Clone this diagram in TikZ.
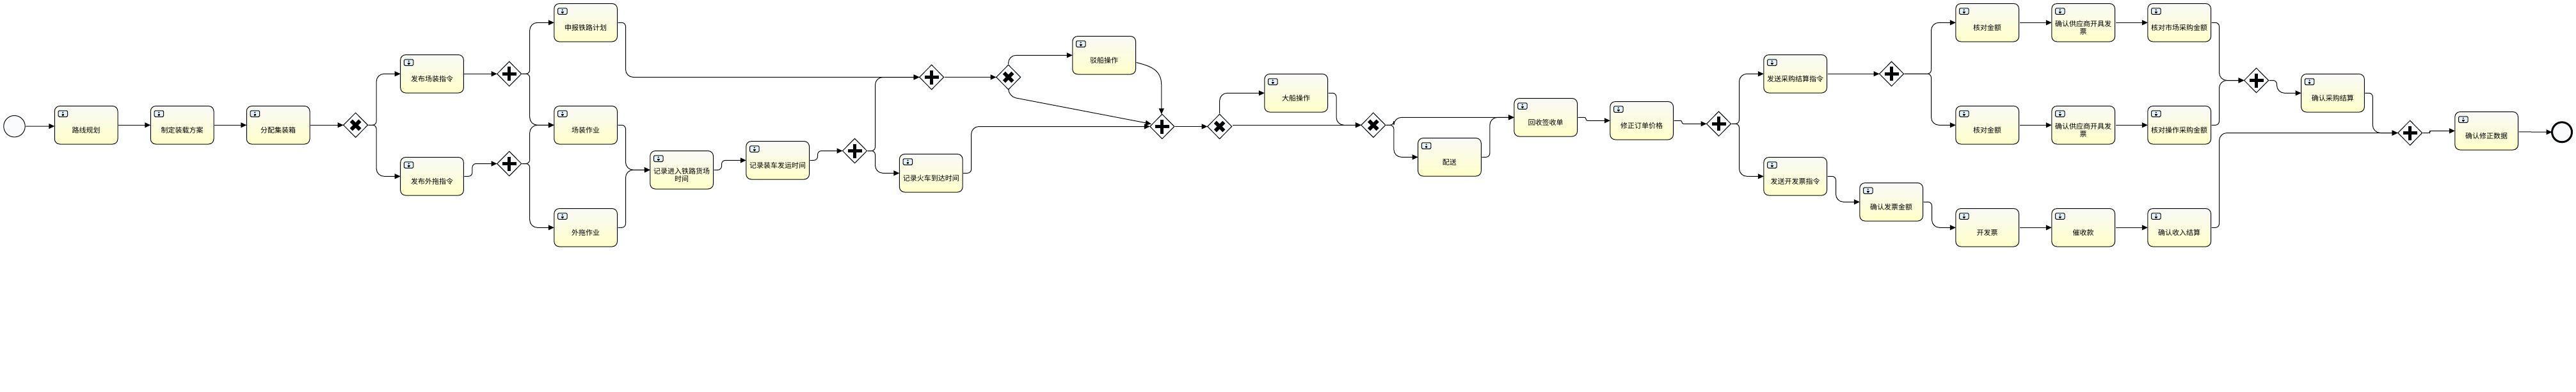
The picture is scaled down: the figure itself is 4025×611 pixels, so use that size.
\documentclass[tikz,border=0pt]{standalone}
\usepackage{fontspec}
\setmainfont{Noto Sans CJK SC}
\usetikzlibrary{shapes.geometric,arrows.meta,calc}
\definecolor{iconblue}{HTML}{E3F1FB}
\definecolor{pale}{HTML}{F9FBFD}
\definecolor{boxtop}{HTML}{F9F9F8}
\definecolor{boxbottom}{HTML}{FFFFC8}
\tikzset{
  task/.style={draw=black,line width=1pt,rounded corners=8pt,top color=boxtop,bottom color=boxbottom,
    minimum width=98.7pt,minimum height=59.4pt,inner sep=0pt,outer sep=0pt},
  tasktext/.style={font=\fontsize{11pt}{12.6pt}\selectfont,align=center,text=black,inner sep=0pt,yshift=-7.8pt},
  taskicon/.style={draw=black,line width=1pt,rounded corners=1.5pt,fill=iconblue,minimum width=14.5pt,minimum height=9.5pt,inner sep=0pt,outer sep=0pt},
  gate/.style={diamond,draw=black,line width=1pt,fill=pale,aspect=1,minimum width=38pt,minimum height=38.4pt,inner sep=0pt,outer sep=0pt},
  evstart/.style={circle,draw=black,line width=1pt,fill=pale,minimum size=33.5pt,inner sep=0pt,outer sep=0pt},
  evend/.style={circle,draw=black,line width=3pt,fill=pale,minimum size=31pt,inner sep=0pt,outer sep=0pt},
  flow/.style={draw=black,line width=1pt,-{Triangle[length=9pt,width=8pt]},shorten <=1pt},
}
\newcommand{\tasknode}[4]{%
  \node[task,label={[tasktext]center:{#4}}] (#1) at ({#2+49.35},{#3+30}) {};
  \node[taskicon] (#1i) at ({#2+13},{#3+12.2}) {};
  \fill[black] ({#2+13},{#3+10.2}) circle (1.1pt);
  \fill[black] ({#2+11.2},{#3+12.2}) rectangle ({#2+14.8},{#3+13.4});
  \fill[black] ({#2+13},{#3+14.2}) circle (1.8pt);
}
\newcommand{\andgate}[3]{%
  \node[gate] (#1) at (#2,#3) {};
  \fill[black] ({#2-11},{#3-2.5}) rectangle ({#2+11},{#3+2.5});
  \fill[black] ({#2-2.5},{#3-11}) rectangle ({#2+2.5},{#3+11});
}
\newcommand{\xorgate}[3]{%
  \node[gate] (#1) at (#2,#3) {};
  \draw[black,line width=5.8pt] ({#2-6.8},{#3-6.8}) -- ({#2+6.8},{#3+6.8});
  \draw[black,line width=5.8pt] ({#2-6.8},{#3+6.8}) -- ({#2+6.8},{#3-6.8});
}
% elbow connector: out of a, vertical run at distance dx, into b
\newcommand{\conn}[3]{\draw[flow] (#1.east) [rounded corners=6pt] -- ++(#2,0) [rounded corners=12pt] |- (#3.west);}
\newcommand{\sconn}[3]{\draw[flow,rounded corners=6pt] (#1.east) -- ++(#2,0) |- (#3.west);}
\newcommand{\tconn}[3]{\draw[flow,rounded corners=2.4pt] (#1.east) -- ++(#2,0) |- (#3.west);}
\begin{document}
\begin{tikzpicture}[x=1pt,y=-1pt]
\useasboundingbox (0,0) rectangle (4025,611);
\fill[white] (0,0) rectangle (4025,611);
% events
\node[evstart] (start) at (22.5,197.2) {};
\node[evend] (stop) at (4003,206.3) {};
% tasks
\tasknode{ta}{85.3}{165.3}{路线规划}
\tasknode{tb}{235.3}{165.3}{制定装载方案}
\tasknode{tc}{385.3}{165.3}{分配集装箱}
\tasknode{td}{625.7}{85.3}{发布场装指令}
\tasknode{te}{625.7}{245.3}{发布外拖指令}
\tasknode{tf}{865.8}{5.3}{申报铁路计划}
\tasknode{tg}{865.8}{165.3}{场装作业}
\tasknode{th}{865.8}{325.3}{外拖作业}
\tasknode{ti}{1015.8}{235.3}{记录进入铁路货场\\时间}
\tasknode{tj}{1165.8}{220.3}{记录装车发运时间}
\tasknode{tk}{1405.4}{240.3}{记录火车到达时间}
\tasknode{tl}{1675.8}{56.3}{驳船操作}
\tasknode{tm}{1975.8}{115.3}{大船操作}
\tasknode{tn}{2215.6}{215.3}{配送}
\tasknode{to}{2365.8}{153.3}{回收签收单}
\tasknode{tp}{2515.8}{158.3}{修正订单价格}
\tasknode{tq}{2755.8}{85.3}{发送采购结算指令}
\tasknode{tr}{2755.8}{245.3}{发送开发票指令}
\tasknode{ts}{2905.8}{285.3}{确认发票金额}
\tasknode{tt}{3055.8}{5.3}{核对金额}
\tasknode{tu}{3205.8}{5.3}{确认供应商开具发\\票}
\tasknode{tv}{3355.8}{5.3}{核对市场采购金额}
\tasknode{tw}{3055.8}{165.3}{核对金额}
\tasknode{tx}{3205.8}{165.3}{确认供应商开具发\\票}
\tasknode{ty}{3355.8}{165.3}{核对操作采购金额}
\tasknode{tz}{3055.8}{325.3}{开发票}
\tasknode{ua}{3205.8}{325.3}{催收款}
\tasknode{ub}{3355.8}{325.3}{确认收入结算}
\tasknode{uc}{3595.6}{115.3}{确认采购结算}
\tasknode{ud}{3835.8}{174.3}{确认修正数据}
% gateways
\xorgate{xa}{555.6}{195.3}
\andgate{aa}{795.7}{115.3}
\andgate{ab}{795.7}{255.5}
\andgate{ac}{1335.5}{235.5}
\andgate{ad}{1455.6}{120.5}
\xorgate{xb}{1575.6}{120.5}
\andgate{ae}{1815.8}{197.5}
\xorgate{xc}{1905.6}{197.5}
\xorgate{xd}{2145.8}{195.3}
\andgate{af}{2685.5}{193.3}
\andgate{ag}{2955.5}{115.3}
\andgate{ah}{3525.5}{125.5}
\andgate{ai}{3765.6}{207.5}
% straight flows
\draw[flow] (start.east) -- ([yshift=-1.7pt]ta.west);
\draw[flow] (ta.east) -- (tb.west);
\draw[flow] (tb.east) -- (tc.west);
\draw[flow] (tc.east) -- (xa.west);
\draw[flow] (td.east) -- (aa.west);
\draw[flow] (ad.east) -- (xb.west);
\draw[flow] (ae.east) -- (xc.west);
\draw[flow] (tq.east) -- (ag.west);
\draw[flow] (tt.east) -- (tu.west);
\draw[flow] (tu.east) -- (tv.west);
\draw[flow] (tw.east) -- (tx.west);
\draw[flow] (tx.east) -- (ty.west);
\draw[flow] (tz.east) -- (ua.west);
\draw[flow] (ua.east) -- (ub.west);
\draw[flow] (xc.east |- xd.west) -- (xd.west);
\draw[flow] ([yshift=-1.5pt]ud.east) -- (stop.west);
% elbow flows
\conn{xa}{13.5}{td}
\conn{xa}{13.5}{te}
\sconn{te}{13.5}{ab}
\conn{aa}{13}{tf}
\conn{aa}{13}{tg}
\conn{ab}{13}{tg}
\conn{ab}{13}{th}
\conn{tf}{13}{ad}
\conn{tg}{13}{ti}
\conn{th}{13}{ti}
\sconn{ti}{13}{tj}
\sconn{tj}{13}{ac}
\conn{ac}{13}{ad}
\conn{ac}{13}{tk}
\conn{tk}{13.5}{ae}
\draw[flow,rounded corners=12pt] (xb.north) |- (tl.west);
\draw[flow,rounded corners=12pt] (xb.south) -- ++(0,11) -- ([xshift=2pt,yshift=4pt]ae.west);
\draw[flow] ([yshift=-11pt]tl.east) .. controls +(24,6) and +(0,-24) .. ($(ae.north)+(-1,-45)$) -- ($(ae.north)+(-1,0)$);
\draw[flow,rounded corners=12pt] (xc.north) |- (tm.west);
\conn{tm}{13.5}{xd}
\conn{xd}{13}{to}
\conn{xd}{13}{tn}
\conn{tn}{13.5}{to}
\tconn{to}{13.5}{tp}
\tconn{tp}{13.5}{af}
\conn{af}{13}{tq}
\conn{af}{13}{tr}
\conn{ag}{43}{tt}
\conn{ag}{43}{tw}
\conn{tr}{14}{ts}
\conn{ts}{14}{tz}
\conn{tv}{13}{ah}
\conn{ty}{13}{ah}
\conn{ub}{13}{ai}
\conn{ah}{13}{uc}
\conn{uc}{13}{ai}
\tconn{ai}{12}{ud}
\end{tikzpicture}
\end{document}
